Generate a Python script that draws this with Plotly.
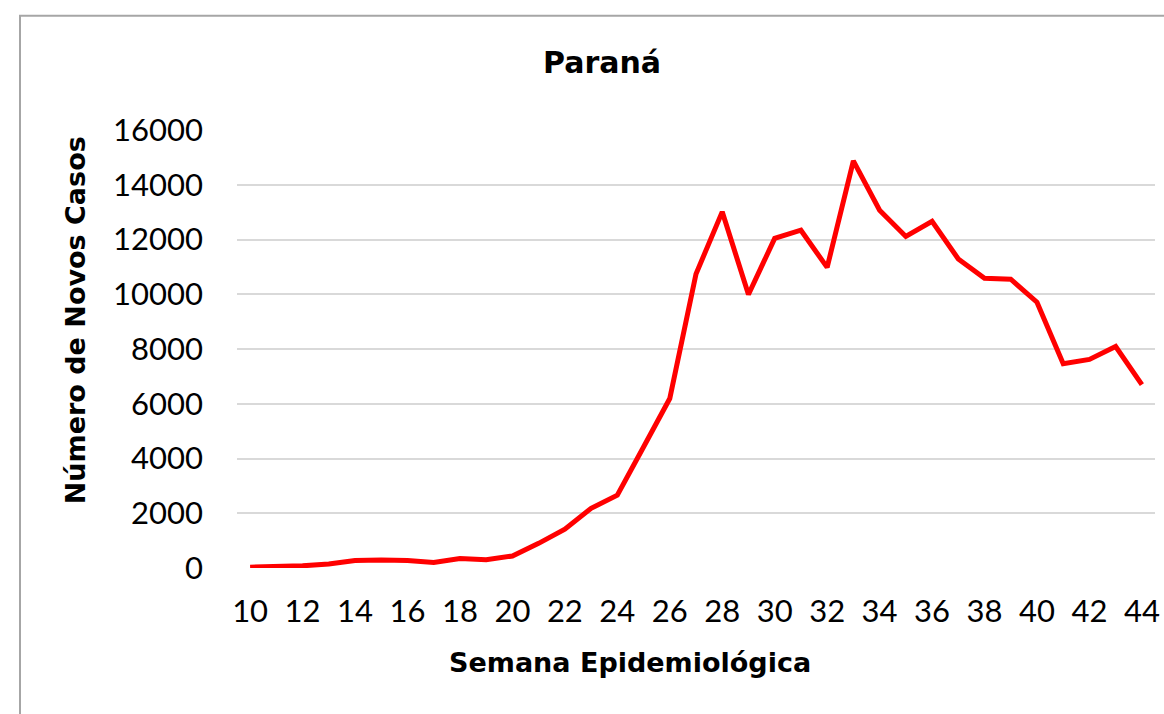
import plotly.graph_objects as go

semanas = list(range(10, 45))
casos = [30, 40, 80, 146, 270, 290, 270, 200, 350, 300, 440, 900, 1420, 2180, 2660,
         4420, 6190, 10740, 13010, 9990, 12040, 12340, 10980, 14870, 13070, 12110,
         12660, 11290, 10580, 10550, 9710, 7460, 7620, 8090, 6700]

titulo = "Paraná"
titulo_x = "Semana Epidemiológica"
titulo_y = "Número de Novos Casos"

W, H = 1164, 714
L, R, T, B = 237, 1155, 129.5, 568
pw, ph = R - L, B - T

def px(x):
    return (x - L) / pw

def py(y):
    return (B - y) / ph

FONT = "Lato"
TFONT = "DejaVu Sans"

fig = go.Figure()
fig.add_trace(go.Scatter(x=semanas, y=casos, mode="lines",
                         line=dict(color="#FF0000", width=5), showlegend=False))

fig.update_layout(
    width=W, height=H,
    margin=dict(l=L, r=W - R, t=T, b=H - B, autoexpand=False),
    paper_bgcolor="white", plot_bgcolor="white",
    font=dict(family=FONT, color="black"),
    xaxis=dict(range=[9.5, 44.5], tickmode="linear", tick0=10, dtick=2,
               showgrid=False, zeroline=False, showline=False,
               tickfont=dict(size=31, family=FONT), ticklabelstandoff=22),
    yaxis=dict(range=[0, 16000], tickmode="linear", tick0=0, dtick=2000,
               tickformat="d",
               showgrid=True, gridcolor="#D9D9D9", gridwidth=1.5,
               zeroline=False, showline=False,
               tickfont=dict(size=31, family=FONT), ticklabelstandoff=33),
    annotations=[
        dict(text="<b>%s</b>" % titulo, xref="paper", yref="paper",
             x=px(602), y=py(62), xanchor="center", yanchor="middle",
             showarrow=False, font=dict(size=30, family=TFONT)),
        dict(text="<b>%s</b>" % titulo_x, xref="paper", yref="paper",
             x=px(629.5), y=py(663), xanchor="center", yanchor="middle",
             showarrow=False, font=dict(size=27, family=TFONT)),
        dict(text="<b>%s</b>" % titulo_y, xref="paper", yref="paper",
             x=px(75), y=py(320), xanchor="center", yanchor="middle",
             textangle=-90, showarrow=False, font=dict(size=27, family=TFONT)),
    ],
    shapes=[
        dict(type="rect", xref="paper", yref="paper",
             x0=px(20), y0=py(15), x1=px(1180), y1=py(730),
             line=dict(color="#A6A6A6", width=2), fillcolor="rgba(0,0,0,0)",
             layer="below"),
    ],
)

fig.write_html("out.html",
               config={"displayModeBar": False},
               post_script="document.body.style.margin='0';document.body.style.overflow='hidden';")
